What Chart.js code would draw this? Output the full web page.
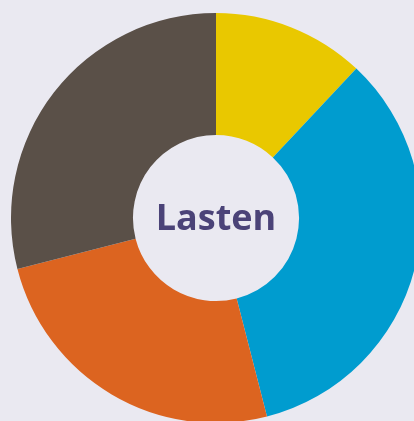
<!DOCTYPE html>
<html>
<head>
<meta charset="utf-8">
<script src="https://cdn.jsdelivr.net/npm/chart.js@4/dist/chart.umd.min.js"></script>
<style>
  html, body { margin: 0; padding: 0; background: #eae9f1; overflow: hidden; width: 414px; height: 421px; }
  #wrap { position: absolute; left: 11px; top: 13px; width: 410px; height: 410px; }
</style>
</head>
<body>
<div id="wrap"><canvas id="donut"></canvas></div>
<script>
var labels = ["Osa 1", "Osa 2", "Osa 3", "Osa 4"];
var values = [12, 34, 25, 29];
var colors = ["#e9c800", "#009ccf", "#dc6420", "#5a5048"];
var centerTitle = "Lasten";

var centerText = {
  id: "centerText",
  afterDraw: function(chart) {
    var ctx = chart.ctx;
    var meta = chart.getDatasetMeta(0).data[0];
    ctx.save();
    ctx.font = "bold 36px 'Open Sans'";
    ctx.fillStyle = "#4b4378";
    ctx.textAlign = "center";
    ctx.textBaseline = "alphabetic";
    ctx.fillText(centerTitle, meta.x, meta.y + 12);
    ctx.restore();
  }
};

document.addEventListener("DOMContentLoaded", function(event) {
  var ctx = document.getElementById("donut").getContext("2d");
  var myChart = new Chart(ctx, {
    type: "doughnut",
    data: {
      labels: labels,
      datasets: [
        {
          data: values,
          backgroundColor: colors,
          borderWidth: 0
        }
      ]
    },
    options: {
      responsive: true,
      maintainAspectRatio: false,
      animation: false,
      cutout: "40.5%",
      layout: { padding: 0 },
      plugins: {
        legend: { display: false },
        tooltip: { enabled: false }
      }
    },
    plugins: [centerText]
  });
});
</script>
</body>
</html>
